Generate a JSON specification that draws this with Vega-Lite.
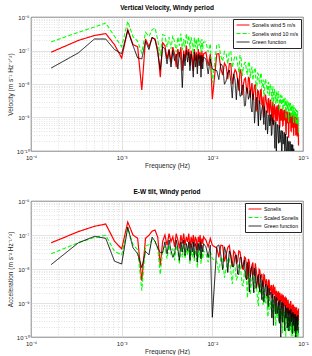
{
"$schema": "https://vega.github.io/schema/vega-lite/v6.json",
"background": "white",
"padding": {"left": 6, "right": 10, "top": 4, "bottom": 0},
"spacing": 19,
"config": {
 "font": "Liberation Sans",
 "view": {"stroke": "#262626", "strokeWidth": 0.8},
 "axis": {"domain": false, "ticks": false, "labelFontSize": 6, "labelColor": "#262626", "labelPadding": 3, "titleFontSize": 6.5, "titleFontWeight": "normal", "titleColor": "#262626", "gridColor": "#d0d0d0", "gridWidth": 0.6, "labelOverlap": false, "labelFlush": false},
 "title": {"fontSize": 6.5, "fontWeight": "bold", "offset": 3, "color": "#000000"},
 "legend": {"orient": "top-right", "offset": 2, "fillColor": "white", "strokeColor": "#262626", "padding": 2, "labelFontSize": 5.2, "labelColor": "#000000", "symbolType": "M-2,0L2,0", "symbolSize": 42, "symbolOffset": 4, "symbolStrokeWidth": 1.2, "rowPadding": 0.5, "labelOffset": 5, "labelLimit": 200}
},
"datasets": {"psd": [
{"f":0.000167,"v5":8.9e-8,"v10":1.8e-7,"vg":3.0e-8,"ar":5.9e-8,"as":2.8e-8,"ag":1.35e-8},
{"f":0.000333,"v5":2.0e-7,"v10":3.5e-7,"vg":8.5e-8,"ar":1.26e-7,"as":5.9e-8,"ag":5.9e-8},
{"f":0.0005,"v5":2.8e-7,"v10":5.0e-7,"vg":2.2e-7,"ar":1.8e-7,"as":8.5e-8,"ag":9.1e-8},
{"f":0.000667,"v5":3.2e-7,"v10":6.6e-7,"vg":2.2e-7,"ar":2.1e-7,"as":9.8e-8,"ag":8.0e-8},
{"f":0.000833,"v5":1.5e-7,"v10":2.65e-7,"vg":1.07e-7,"ar":6.6e-8,"as":3.3e-8,"ag":1.7e-8},
{"f":0.001,"v5":6.0e-8,"v10":1.3e-7,"vg":8.0e-8,"ar":3.9e-8,"as":2.6e-8,"ag":1.4e-8},
{"f":0.001167,"v5":4.2e-7,"v10":7.4e-7,"vg":4.0e-7,"ar":2.4e-7,"as":1.6e-7,"ag":1.7e-7},
{"f":0.001333,"v5":1.5e-7,"v10":2.6e-7,"vg":1.4e-7,"ar":1.0e-7,"as":5.2e-8,"ag":4.2e-8},
{"f":0.0015,"v5":1.3e-7,"v10":1.9e-7,"vg":6.0e-8,"ar":8.0e-8,"as":3.7e-8,"ag":2.8e-8},
{"f":0.001667,"v5":6.6e-9,"v10":8.5e-8,"vg":5.6e-8,"ar":4.5e-9,"as":2.3e-9,"ag":1.1e-8},
{"f":0.001833,"v5":2.2e-7,"v10":3.5e-7,"vg":1.9e-7,"ar":8.0e-8,"as":4.7e-8,"ag":3.3e-8},
{"f":0.002,"v5":1.3e-7,"v10":2.6e-7,"vg":1.07e-7,"ar":9.8e-8,"as":5.2e-8,"ag":2.6e-8},
{"f":0.002167,"v5":2.4e-7,"v10":4.2e-7,"vg":2.5e-7,"ar":1.3e-7,"as":7.3e-8,"ag":8.6e-8},
{"f":0.002333,"v5":2.2e-7,"v10":4.7e-7,"vg":2.1e-7,"ar":1.4e-7,"as":6.5e-8,"ag":6.5e-8},
{"f":0.0025,"v5":1.07e-7,"v10":2.1e-7,"vg":8.5e-8,"ar":8.6e-8,"as":4.0e-8,"ag":4.2e-8},
{"f":0.002667,"v5":1.6e-8,"v10":6.8e-8,"vg":2.7e-8,"ar":1.26e-8,"as":6.9e-9,"ag":3.0e-8},
{"f":0.002833,"v5":1.7e-7,"v10":3.0e-7,"vg":1.3e-7,"ar":6.5e-8,"as":3.7e-8,"ag":3.0e-8},
{"f":0.003,"v5":1.4e-7,"v10":2.8e-7,"vg":1.1e-7,"ar":1.0e-7,"as":4.5e-8,"ag":6.3e-8},
{"f":0.003167,"v5":5.6e-8,"v10":1.26e-7,"vg":4.0e-8,"ar":5.0e-8,"as":2.0e-8,"ag":2.8e-8},
{"f":0.003333,"v5":1.1e-7,"v10":2.5e-7,"vg":1.0e-7,"ar":1.1e-7,"as":5.0e-8,"ag":7.1e-8},
{"f":0.0035,"v5":4.5e-8,"v10":1.1e-7,"vg":3.2e-8,"ar":6.3e-8,"as":2.8e-8,"ag":3.5e-8},
{"f":0.003667,"v5":1.26e-7,"v10":2.8e-7,"vg":1.0e-7,"ar":8.9e-8,"as":4.0e-8,"ag":2.2e-8},
{"f":0.003833,"v5":7.9e-8,"v10":1.8e-7,"vg":5.0e-8,"ar":4.5e-8,"as":1.8e-8,"ag":2.8e-8},
{"f":0.004,"v5":3.2e-8,"v10":8.9e-8,"vg":7.9e-8,"ar":1.1e-7,"as":5.0e-8,"ag":7.1e-8},
{"f":0.004167,"v5":1.1e-7,"v10":2.5e-7,"vg":2.8e-8,"ar":7.1e-8,"as":3.2e-8,"ag":4.0e-8},
{"f":0.004333,"v5":6.3e-8,"v10":1.4e-7,"vg":8.9e-8,"ar":4.0e-8,"as":1.4e-8,"ag":1.8e-8},
{"f":0.0045,"v5":1.26e-7,"v10":3.2e-7,"vg":5.0e-8,"ar":1.0e-7,"as":4.5e-8,"ag":6.3e-8},
{"f":0.004667,"v5":2.5e-8,"v10":1.0e-7,"vg":7.8e-9,"ar":5.6e-8,"as":2.2e-8,"ag":3.2e-8},
{"f":0.004833,"v5":1.0e-7,"v10":2.2e-7,"vg":7.9e-8,"ar":1.1e-7,"as":5.0e-8,"ag":7.1e-8},
{"f":0.005,"v5":5.0e-8,"v10":1.26e-7,"vg":3.5e-8,"ar":5.0e-8,"as":2.0e-8,"ag":2.5e-8},
{"f":0.005167,"v5":1.4e-7,"v10":3.2e-7,"vg":1.0e-7,"ar":8.9e-8,"as":4.0e-8,"ag":5.6e-8},
{"f":0.005333,"v5":7.1e-8,"v10":1.6e-7,"vg":4.5e-8,"ar":6.3e-8,"as":2.5e-8,"ag":3.5e-8},
{"f":0.0055,"v5":1.1e-7,"v10":2.8e-7,"vg":8.9e-8,"ar":1.1e-7,"as":5.0e-8,"ag":6.3e-8},
{"f":0.005667,"v5":3.5e-8,"v10":1.1e-7,"vg":2.5e-8,"ar":4.0e-8,"as":1.4e-8,"ag":1.8e-8},
{"f":0.005833,"v5":1.0e-7,"v10":2.5e-7,"vg":7.9e-8,"ar":8.9e-8,"as":3.5e-8,"ag":5.6e-8},
{"f":0.006,"v5":6.3e-8,"v10":1.6e-7,"vg":4.0e-8,"ar":5.6e-8,"as":2.2e-8,"ag":3.2e-8},
{"f":0.006167,"v5":2.5e-8,"v10":7.9e-8,"vg":1.6e-8,"ar":1.0e-7,"as":4.0e-8,"ag":6.3e-8},
{"f":0.006333,"v5":1.1e-7,"v10":2.5e-7,"vg":8.9e-8,"ar":4.5e-8,"as":1.6e-8,"ag":2.2e-8},
{"f":0.0065,"v5":5.0e-8,"v10":1.26e-7,"vg":3.2e-8,"ar":8.9e-8,"as":3.5e-8,"ag":5.6e-8},
{"f":0.006667,"v5":8.9e-8,"v10":2.2e-7,"vg":7.1e-8,"ar":7.1e-8,"as":2.8e-8,"ag":4.5e-8},
{"f":0.006833,"v5":3.2e-8,"v10":1.0e-7,"vg":2.0e-8,"ar":3.5e-8,"as":1.1e-8,"ag":1.6e-8},
{"f":0.007,"v5":1.1e-7,"v10":2.5e-7,"vg":7.9e-8,"ar":8.9e-8,"as":3.5e-8,"ag":5.6e-8},
{"f":0.007167,"v5":5.6e-8,"v10":1.4e-7,"vg":3.5e-8,"ar":6.3e-8,"as":2.2e-8,"ag":3.5e-8},
{"f":0.007333,"v5":8.9e-8,"v10":2.0e-7,"vg":7.1e-8,"ar":1.0e-7,"as":4.0e-8,"ag":6.3e-8},
{"f":0.0075,"v5":2.8e-8,"v10":8.9e-8,"vg":1.6e-8,"ar":4.0e-8,"as":1.4e-8,"ag":2.0e-8},
{"f":0.007667,"v5":1.0e-7,"v10":2.2e-7,"vg":7.1e-8,"ar":7.9e-8,"as":3.2e-8,"ag":5.0e-8},
{"f":0.007833,"v5":4.5e-8,"v10":1.1e-7,"vg":2.8e-8,"ar":5.6e-8,"as":2.0e-8,"ag":3.2e-8},
{"f":0.008,"v5":7.9e-8,"v10":1.8e-7,"vg":6.3e-8,"ar":8.9e-8,"as":3.5e-8,"ag":5.6e-8},
{"f":0.0085,"v5":8.9e-8,"v10":1.8e-7,"vg":5.6e-8,"ar":7.1e-8,"as":2.8e-8,"ag":4.5e-8},
{"f":0.009,"v5":3.5e-8,"v10":8.9e-8,"vg":2.0e-8,"ar":4.5e-8,"as":1.6e-8,"ag":2.2e-8},
{"f":0.0095,"v5":7.9e-8,"v10":1.6e-7,"vg":5.6e-8,"ar":7.9e-8,"as":3.2e-8,"ag":5.0e-8},
{"f":0.01,"v5":3.5e-9,"v10":1.1e-8,"vg":2.8e-8,"ar":5.0e-8,"as":2.0e-8,"ag":3.8e-10},
{"f":0.0112,"v5":7.9e-8,"v10":1.5e-7,"vg":2.5e-8,"ar":4.1e-8,"as":1.66e-8,"ag":4.6e-8},
{"f":0.0124,"v5":2.9e-8,"v10":6.8e-8,"vg":4.0e-8,"ar":5.0e-8,"as":2.1e-8,"ag":2.6e-8},
{"f":0.0136,"v5":4.2e-8,"v10":9.3e-8,"vg":9.8e-9,"ar":1.66e-8,"as":5.5e-9,"ag":4.5e-8},
{"f":0.0148,"v5":1.4e-8,"v10":4.0e-8,"vg":2.2e-8,"ar":4.3e-8,"as":1.8e-8,"ag":7.9e-9},
{"f":0.016,"v5":4.0e-8,"v10":9.3e-8,"vg":1.2e-8,"ar":2.3e-8,"as":8.5e-9,"ag":2.6e-8},
{"f":0.0172,"v5":1.8e-8,"v10":5.0e-8,"vg":2.0e-8,"ar":3.4e-8,"as":1.35e-8,"ag":1.2e-8},
{"f":0.0184,"v5":2.3e-8,"v10":6.3e-8,"vg":3.4e-9,"ar":1.5e-8,"as":4.9e-9,"ag":2.6e-8},
{"f":0.0196,"v5":6.3e-9,"v10":2.2e-8,"vg":1.05e-8,"ar":3.4e-8,"as":1.4e-8,"ag":6.9e-9},
{"f":0.0208,"v5":2.1e-8,"v10":5.8e-8,"vg":4.5e-9,"ar":1.9e-8,"as":6.9e-9,"ag":2.2e-8},
{"f":0.022,"v5":9.5e-9,"v10":3.1e-8,"vg":9.1e-9,"ar":9.8e-9,"as":3.2e-9,"ag":1.35e-8},
{"f":0.0232,"v5":1.5e-8,"v10":4.4e-8,"vg":2.3e-9,"ar":2.1e-8,"as":8.5e-9,"ag":5.9e-9},
{"f":0.0244,"v5":5.2e-9,"v10":1.9e-8,"vg":7.2e-9,"ar":5.0e-9,"as":1.4e-9,"ag":1.55e-8},
{"f":0.0256,"v5":1.5e-8,"v10":4.4e-8,"vg":4.5e-9,"ar":1.6e-8,"as":6.0e-9,"ag":2.1e-9},
{"f":0.0268,"v5":7.4e-9,"v10":2.5e-8,"vg":1.95e-9,"ar":9.3e-9,"as":3.3e-9,"ag":1.05e-8},
{"f":0.028,"v5":3.3e-9,"v10":1.3e-8,"vg":5.1e-9,"ar":1.55e-8,"as":6.3e-9,"ag":5.0e-9},
{"f":0.0292,"v5":9.1e-9,"v10":2.9e-8,"vg":6.8e-10,"ar":6.6e-9,"as":2.2e-9,"ag":1.05e-8},
{"f":0.0304,"v5":1.5e-9,"v10":6.9e-9,"vg":3.4e-9,"ar":1.0e-8,"as":4.0e-9,"ag":2.7e-9},
{"f":0.0316,"v5":6.5e-9,"v10":2.1e-8,"vg":1.6e-9,"ar":4.0e-9,"as":1.2e-9,"ag":5.9e-9},
{"f":0.0328,"v5":3.5e-9,"v10":1.3e-8,"vg":3.2e-9,"ar":9.8e-9,"as":3.8e-9,"ag":3.4e-9},
{"f":0.034,"v5":6.6e-9,"v10":2.1e-8,"vg":8.3e-10,"ar":5.5e-9,"as":1.9e-9,"ag":6.6e-9},
{"f":0.0352,"v5":2.3e-9,"v10":8.5e-9,"vg":1.8e-9,"ar":7.1e-9,"as":2.7e-9,"ag":1.26e-9},
{"f":0.0364,"v5":4.2e-9,"v10":1.35e-8,"vg":1.1e-9,"ar":3.0e-9,"as":8.9e-10,"ag":3.7e-9},
{"f":0.0376,"v5":1.4e-9,"v10":5.4e-9,"vg":2.1e-9,"ar":6.6e-9,"as":2.5e-9,"ag":1.66e-9},
{"f":0.0388,"v5":4.5e-9,"v10":1.35e-8,"vg":4.2e-10,"ar":3.2e-9,"as":1.0e-9,"ag":3.5e-9},
{"f":0.04,"v5":2.3e-9,"v10":7.8e-9,"vg":1.26e-9,"ar":4.2e-9,"as":1.5e-9,"ag":1.8e-9},
{"f":0.0412,"v5":3.4e-9,"v10":1.05e-8,"vg":5.6e-10,"ar":1.45e-9,"as":3.9e-10,"ag":7.9e-10},
{"f":0.0424,"v5":1.15e-9,"v10":4.4e-9,"vg":1.2e-9,"ar":4.4e-9,"as":1.6e-9,"ag":2.7e-9},
{"f":0.0436,"v5":3.4e-9,"v10":1.0e-8,"vg":6.3e-10,"ar":2.4e-9,"as":7.6e-10,"ag":1.9e-9},
{"f":0.0448,"v5":1.45e-9,"v10":4.9e-9,"vg":2.9e-10,"ar":3.4e-9,"as":1.2e-9,"ag":6.9e-10},
{"f":0.046,"v5":2.1e-9,"v10":6.6e-9,"vg":9.8e-10,"ar":1.5e-9,"as":4.5e-10,"ag":1.8e-9},
{"f":0.0472,"v5":5.9e-10,"v10":2.3e-9,"vg":6.8e-10,"ar":3.3e-9,"as":1.2e-9,"ag":2.2e-10},
{"f":0.0484,"v5":2.5e-9,"v10":7.1e-9,"vg":2.6e-10,"ar":1.9e-9,"as":6.0e-10,"ag":1.6e-9},
{"f":0.0496,"v5":1.2e-9,"v10":4.0e-9,"vg":6.9e-10,"ar":1.0e-9,"as":2.75e-10,"ag":7.4e-10},
{"f":0.0508,"v5":2.0e-9,"v10":5.8e-9,"vg":8.3e-11,"ar":2.3e-9,"as":8.3e-10,"ag":1.5e-9},
{"f":0.052,"v5":7.9e-10,"v10":2.7e-9,"vg":6.2e-10,"ar":1.3e-9,"as":4.0e-10,"ag":4.9e-10},
{"f":0.0532,"v5":2.2e-9,"v10":5.9e-9,"vg":2.8e-10,"ar":1.95e-9,"as":6.9e-10,"ag":8.7e-10},
{"f":0.0544,"v5":1.2e-9,"v10":3.5e-9,"vg":5.8e-10,"ar":8.9e-10,"as":2.6e-10,"ag":3.0e-10},
{"f":0.0556,"v5":5.8e-10,"v10":1.9e-9,"vg":1.8e-10,"ar":2.0e-9,"as":7.2e-10,"ag":1.2e-9},
{"f":0.0568,"v5":1.8e-9,"v10":4.6e-9,"vg":3.2e-10,"ar":1.2e-9,"as":3.8e-10,"ag":8.0e-11},
{"f":0.058,"v5":8.7e-10,"v10":2.5e-9,"vg":1.0e-10,"ar":1.55e-9,"as":5.5e-10,"ag":8.5e-10},
{"f":0.0592,"v5":1.5e-9,"v10":3.8e-9,"vg":4.0e-10,"ar":4.7e-10,"as":1.3e-10,"ag":3.0e-10},
{"f":0.0604,"v5":5.9e-10,"v10":1.7e-9,"vg":1.6e-10,"ar":1.7e-9,"as":6.5e-10,"ag":1.0e-9},
{"f":0.0616,"v5":1.7e-9,"v10":3.9e-9,"vg":2.75e-10,"ar":8.9e-10,"as":3.0e-10,"ag":4.7e-10},
{"f":0.0628,"v5":8.7e-10,"v10":2.3e-9,"vg":9.3e-11,"ar":1.4e-9,"as":5.2e-10,"ag":1.5e-10},
{"f":0.064,"v5":1.3e-9,"v10":3.1e-9,"vg":3.2e-10,"ar":6.8e-10,"as":2.2e-10,"ag":8.1e-10},
{"f":0.0652,"v5":3.0e-10,"v10":9.3e-10,"vg":1.4e-10,"ar":1.45e-9,"as":5.8e-10,"ag":3.6e-10},
{"f":0.0664,"v5":1.55e-9,"v10":3.4e-9,"vg":4.5e-11,"ar":8.3e-10,"as":3.0e-10,"ag":7.2e-10},
{"f":0.0676,"v5":7.2e-10,"v10":1.8e-9,"vg":2.3e-10,"ar":4.9e-10,"as":1.55e-10,"ag":2.5e-10},
{"f":0.0688,"v5":1.3e-9,"v10":2.75e-9,"vg":1.0e-10,"ar":1.1e-9,"as":4.6e-10,"ag":7.2e-10},
{"f":0.07,"v5":5.5e-10,"v10":1.35e-9,"vg":1.95e-10,"ar":6.0e-10,"as":2.1e-10,"ag":1.5e-10},
{"f":0.0712,"v5":1.45e-9,"v10":2.9e-9,"vg":6.6e-11,"ar":8.9e-10,"as":3.5e-10,"ag":5.1e-10},
{"f":0.0724,"v5":7.4e-10,"v10":1.7e-9,"vg":1.9e-10,"ar":4.7e-10,"as":1.55e-10,"ag":2.5e-10},
{"f":0.0736,"v5":4.0e-10,"v10":1.0e-9,"vg":3.8e-11,"ar":1.05e-9,"as":4.4e-10,"ag":6.6e-10},
{"f":0.0748,"v5":1.2e-9,"v10":2.3e-9,"vg":1.3e-10,"ar":5.8e-10,"as":2.1e-10,"ag":2.75e-10},
{"f":0.076,"v5":5.5e-10,"v10":1.2e-9,"vg":6.0e-11,"ar":8.1e-10,"as":3.4e-10,"ag":1.5e-10},
{"f":0.0772,"v5":9.3e-10,"v10":1.9e-9,"vg":1.55e-10,"ar":3.2e-10,"as":1.05e-10,"ag":5.4e-10},
{"f":0.0784,"v5":4.2e-10,"v10":9.5e-10,"vg":6.5e-11,"ar":8.5e-10,"as":3.7e-10,"ag":3.0e-10},
{"f":0.0796,"v5":1.2e-9,"v10":2.1e-9,"vg":3.2e-11,"ar":4.7e-10,"as":1.8e-10,"ag":4.8e-10},
{"f":0.0808,"v5":5.8e-10,"v10":1.2e-9,"ar":7.4e-10,"as":3.2e-10,"ag":1.55e-10},
{"f":0.082,"v5":9.3e-10,"v10":1.7e-9,"ar":3.5e-10,"as":1.3e-10,"ag":4.0e-10},
{"f":0.0832,"v5":2.9e-10,"v10":6.5e-10,"ar":1.7e-10,"as":5.2e-11,"ag":4.7e-11},
{"f":0.0844,"v5":1.0e-9,"v10":1.7e-9,"ar":7.2e-10,"as":3.2e-10,"ag":4.0e-10},
{"f":0.0856,"v5":4.9e-10,"v10":9.8e-10,"ar":3.7e-10,"as":1.4e-10,"ag":1.55e-10},
{"f":0.0868,"v5":8.7e-10,"v10":1.5e-9,"ar":5.8e-10,"as":2.4e-10,"ag":2.1e-10},
{"f":0.088,"v5":3.5e-10,"v10":7.1e-10,"ar":2.7e-10,"as":9.3e-11,"ag":4.4e-10},
{"f":0.0892,"v5":1.45e-10,"v10":3.4e-10,"ar":6.9e-10,"as":3.0e-10,"ag":1.3e-10},
{"f":0.0118,"v5":8.0e-8,"v10":1.5e-7,"vg":1.36e-8,"ar":2.2e-8,"as":7.7e-9,"ag":5.1e-8},
{"f":0.013,"v5":1.84e-8,"v10":4.8e-8,"vg":3.4e-8,"ar":4.9e-8,"as":2.1e-8,"ag":9.5e-9},
{"f":0.0142,"v5":3.4e-8,"v10":8.0e-8,"vg":1.24e-8,"ar":2.7e-8,"as":1.02e-8,"ag":2.9e-8},
{"f":0.0154,"v5":4.1e-8,"v10":9.4e-8,"vg":2.6e-8,"ar":4.9e-8,"as":2.2e-8,"ag":3.4e-8},
{"f":0.0166,"v5":9.9e-9,"v10":3.05e-8,"vg":3.8e-9,"ar":1.17e-8,"as":3.6e-9,"ag":1.16e-8},
{"f":0.0178,"v5":2.7e-8,"v10":6.9e-8,"vg":1.3e-8,"ar":2.95e-8,"as":1.15e-8,"ag":2.4e-8},
{"f":0.019,"v5":1.33e-8,"v10":4.0e-8,"vg":1.48e-8,"ar":1.7e-8,"as":5.8e-9,"ag":7.1e-9},
{"f":0.0202,"v5":2.8e-8,"v10":7.3e-8,"vg":4.3e-9,"ar":3.2e-8,"as":1.3e-8,"ag":2.2e-8},
{"f":0.0214,"v5":4.6e-9,"v10":1.72e-8,"vg":9.2e-9,"ar":1.03e-8,"as":3.3e-9,"ag":1.1e-8},
{"f":0.0226,"v5":1.4e-8,"v10":4.2e-8,"vg":2.2e-9,"ar":2.26e-8,"as":9.0e-9,"ag":1.85e-8},
{"f":0.0238,"v5":7.0e-9,"v10":2.4e-8,"vg":7.8e-9,"ar":1.33e-8,"as":4.7e-9,"ag":4.8e-9},
{"f":0.025,"v5":1.57e-8,"v10":4.6e-8,"vg":3.5e-9,"ar":1.98e-8,"as":7.9e-9,"ag":1.13e-8},
{"f":0.0262,"v5":3.9e-9,"v10":1.5e-8,"vg":6.5e-9,"ar":5.7e-9,"as":1.74e-9,"ag":5.2e-9},
{"f":0.0274,"v5":1.06e-8,"v10":3.3e-8,"vg":1.46e-9,"ar":1.34e-8,"as":5.2e-9,"ag":1.17e-8},
{"f":0.0286,"v5":5.6e-9,"v10":2.0e-8,"vg":3.8e-9,"ar":6.8e-9,"as":2.3e-9,"ag":2.0e-9},
{"f":0.0298,"v5":9.4e-9,"v10":3.0e-8,"vg":1.6e-9,"ar":1.46e-8,"as":6.0e-9,"ag":8.3e-9},
{"f":0.031,"v5":2.0e-9,"v10":8.6e-9,"vg":4.0e-9,"ar":6.4e-9,"as":2.2e-9,"ag":4.1e-9},
{"f":0.0322,"v5":6.1e-9,"v10":2.0e-8,"vg":5.6e-10,"ar":2.85e-9,"as":8.1e-10,"ag":6.9e-9},
{"f":0.0334,"v5":2.6e-9,"v10":1.01e-8,"vg":2.7e-9,"ar":9.2e-9,"as":3.6e-9,"ag":2.1e-9},
{"f":0.0346,"v5":6.9e-9,"v10":2.1e-8,"vg":1.23e-9,"ar":6.2e-9,"as":2.3e-9,"ag":4.0e-9},
{"f":0.0358,"v5":2.6e-9,"v10":9.3e-9,"vg":2.3e-9,"ar":3.2e-9,"as":1.01e-9,"ag":4.5e-9},
{"f":0.037,"v5":1.01e-9,"v10":4.3e-9,"vg":6.2e-10,"ar":6.9e-9,"as":2.7e-9,"ag":1.05e-9},
{"f":0.0382,"v5":4.7e-9,"v10":1.4e-8,"vg":1.33e-9,"ar":3.5e-9,"as":1.13e-9,"ag":3.2e-9},
{"f":0.0394,"v5":3.0e-9,"v10":9.8e-9,"vg":1.6e-9,"ar":5.0e-9,"as":1.8e-9,"ag":1.65e-9},
{"f":0.0406,"v5":1.4e-9,"v10":5.2e-9,"vg":3.2e-10,"ar":1.72e-9,"as":4.8e-10,"ag":3.2e-9},
{"f":0.0418,"v5":3.8e-9,"v10":1.14e-8,"vg":1.15e-9,"ar":4.9e-9,"as":1.8e-9,"ag":9.5e-10},
{"f":0.043,"v5":1.68e-9,"v10":5.8e-9,"vg":5.6e-10,"ar":2.1e-9,"as":6.3e-10,"ag":1.72e-9},
{"f":0.0442,"v5":2.8e-9,"v10":8.5e-9,"vg":1.23e-9,"ar":3.05e-9,"as":1.05e-9,"ag":2.1e-9},
{"f":0.0454,"v5":7.7e-10,"v10":3.0e-9,"vg":3.2e-10,"ar":1.38e-9,"as":3.9e-10,"ag":3.6e-10},
{"f":0.0466,"v5":3.0e-9,"v10":8.5e-9,"vg":6.3e-10,"ar":3.2e-9,"as":1.13e-9,"ag":1.8e-9},
{"f":0.0478,"v5":1.06e-9,"v10":3.6e-9,"vg":8.2e-10,"ar":1.83e-9,"as":5.8e-10,"ag":7.7e-10},
{"f":0.049,"v5":1.8e-9,"v10":5.5e-9,"vg":1.2e-10,"ar":3.0e-9,"as":1.07e-9,"ag":1.19e-9},
{"f":0.0502,"v5":7.1e-10,"v10":2.5e-9,"vg":7.2e-10,"ar":8.1e-10,"as":2.1e-10,"ag":4.8e-10},
{"f":0.0514,"v5":2.1e-9,"v10":6.0e-9,"vg":2.85e-10,"ar":2.15e-9,"as":7.4e-10,"ag":1.37e-9},
{"f":0.0526,"v5":1.13e-9,"v10":3.5e-9,"vg":4.7e-10,"ar":1.19e-9,"as":3.6e-10,"ag":6.2e-10},
{"f":0.0538,"v5":2.3e-9,"v10":5.9e-9,"vg":1.7e-10,"ar":2.2e-9,"as":8.1e-10,"ag":1.1e-9},
{"f":0.055,"v5":4.7e-10,"v10":1.64e-9,"vg":5.4e-10,"ar":8.4e-10,"as":2.45e-10,"ag":2.6e-10},
{"f":0.0562,"v5":1.64e-9,"v10":4.4e-9,"vg":2.2e-10,"ar":1.62e-9,"as":5.6e-10,"ag":1.05e-9},
{"f":0.0574,"v5":8.2e-10,"v10":2.4e-9,"vg":4.1e-10,"ar":1.1e-9,"as":3.5e-10,"ag":6.0e-10},
{"f":0.0586,"v5":1.86e-9,"v10":4.5e-9,"vg":7.9e-11,"ar":1.87e-9,"as":7.2e-10,"ag":1.06e-9},
{"f":0.0598,"v5":5.7e-10,"v10":1.72e-9,"vg":3.7e-10,"ar":6.0e-10,"as":1.8e-10,"ag":2.7e-10},
{"f":0.061,"v5":1.33e-9,"v10":3.3e-9,"vg":1.93e-10,"ar":1.47e-9,"as":5.5e-10,"ag":7.1e-10},
{"f":0.0622,"v5":8.5e-10,"v10":2.3e-9,"vg":3.6e-10,"ar":8.4e-10,"as":2.8e-10,"ag":3.5e-10},
{"f":0.0634,"v5":1.72e-9,"v10":3.9e-9,"vg":7.9e-11,"ar":1.45e-9,"as":5.6e-10,"ag":8.6e-10},
{"f":0.0646,"v5":4.3e-10,"v10":1.26e-9,"vg":2.2e-10,"ar":3.5e-10,"as":9.5e-11,"ag":3.7e-10},
{"f":0.0658,"v5":1.36e-9,"v10":3.1e-9,"vg":9.9e-11,"ar":1.27e-9,"as":5.0e-10,"ag":6.3e-10},
{"f":0.067,"v5":7.0e-10,"v10":1.75e-9,"vg":2.7e-10,"ar":7.9e-10,"as":2.8e-10,"ag":1.84e-10},
{"f":0.0682,"v5":1.43e-9,"v10":3.0e-9,"vg":1.0e-10,"ar":1.25e-9,"as":5.1e-10,"ag":6.8e-10},
{"f":0.0694,"v5":2.5e-10,"v10":7.2e-10,"vg":1.76e-10,"ar":4.6e-10,"as":1.48e-10,"ag":3.5e-10},
{"f":0.0706,"v5":1.29e-9,"v10":2.65e-9,"vg":4.4e-11,"ar":9.5e-10,"as":3.8e-10,"ag":6.1e-10},
{"f":0.0718,"v5":7.3e-10,"v10":1.68e-9,"vg":1.86e-10,"ar":5.3e-10,"as":1.82e-10,"ag":2.1e-10},
{"f":0.073,"v5":1.33e-9,"v10":2.7e-9,"vg":8.8e-11,"ar":1.14e-9,"as":4.8e-10,"ag":6.1e-10},
{"f":0.0742,"v5":3.9e-10,"v10":9.8e-10,"vg":1.58e-10,"ar":3.2e-10,"as":1.03e-10,"ag":3.1e-10},
{"f":0.0754,"v5":1.01e-9,"v10":2.0e-9,"vg":4.7e-11,"ar":7.8e-10,"as":3.2e-10,"ag":4.9e-10},
{"f":0.0766,"v5":5.0e-10,"v10":1.12e-9,"vg":1.53e-10,"ar":4.8e-10,"as":1.76e-10,"ag":1.23e-10},
{"f":0.0778,"v5":1.33e-9,"v10":2.4e-9,"vg":7.2e-11,"ar":8.7e-10,"as":3.8e-10,"ag":5.1e-10},
{"f":0.079,"v5":2.85e-10,"v10":6.9e-10,"vg":1.16e-10,"ar":3.6e-10,"as":1.29e-10,"ag":2.2e-10},
{"f":0.0802,"v5":8.8e-10,"v10":1.68e-9,"ar":7.3e-10,"as":3.1e-10,"ag":3.8e-10},
{"f":0.0814,"v5":5.0e-10,"v10":1.04e-9,"ar":2.85e-10,"as":9.7e-11,"ag":1.48e-10},
{"f":0.0826,"v5":1.06e-9,"v10":1.86e-9,"ar":7.4e-10,"as":3.2e-10,"ag":4.7e-10},
{"f":0.0838,"v5":3.7e-10,"v10":7.8e-10,"ar":4.3e-10,"as":1.62e-10,"ag":2.25e-10},
{"f":0.085,"v5":8.9e-10,"v10":1.57e-9,"ar":7.2e-10,"as":3.1e-10,"ag":3.8e-10},
{"f":0.0862,"v5":2.7e-10,"v10":6.0e-10,"ar":2.8e-10,"as":9.7e-11,"ag":1.8e-10},
{"f":0.0874,"v5":9.0e-10,"v10":1.53e-9,"ar":5.7e-10,"as":2.4e-10,"ag":4.0e-10},
{"f":0.0886,"v5":4.6e-10,"v10":8.7e-10,"ar":3.2e-10,"as":1.16e-10,"ag":1.4e-10}
]},
"vconcat": [
 {
  "width": 272, "height": 134,
  "title": {"text": "Vertical Velocity, Windy period"},
  "data": {"name": "psd"},
  "transform": [{"fold": ["v5", "v10", "vg"], "as": ["s", "val"]}],
  "mark": {"type": "line", "clip": true},
  "encoding": {
   "x": {"field": "f", "type": "quantitative", "scale": {"type": "log", "domain": [0.0001, 0.1]},
    "axis": {"title": "Frequency (Hz)", "titlePadding": 2,
     "values": [0.0001,0.0002,0.0003,0.0004,0.0005,0.0006,0.0007,0.0008,0.0009,0.001,0.002,0.003,0.004,0.005,0.006,0.007,0.008,0.009,0.01,0.02,0.03,0.04,0.05,0.06,0.07,0.08,0.09,0.1],
     "labelExpr": "abs(log(datum.value)/LN10-round(log(datum.value)/LN10))>0.001 ? '' : round(log(datum.value)/LN10)==-4 ? '10⁻⁴' : round(log(datum.value)/LN10)==-3 ? '10⁻³' : round(log(datum.value)/LN10)==-2 ? '10⁻²' : '10⁻¹'",
     "gridDash": {"condition": {"test": "abs(log(datum.value)/LN10-round(log(datum.value)/LN10))>0.001", "value": [1, 1.5]}, "value": []}}},
   "y": {"field": "val", "type": "quantitative", "scale": {"type": "log", "domain": [1e-10, 1e-6]},
    "axis": {"title": "Velocity (m s⁻¹ Hz⁻¹ᐟ²)", "titlePadding": 3, "labelPadding": 2,
     "values": [1e-10,2e-10,3e-10,4e-10,5e-10,6e-10,7e-10,8e-10,9e-10,1e-9,2e-9,3e-9,4e-9,5e-9,6e-9,7e-9,8e-9,9e-9,1e-8,2e-8,3e-8,4e-8,5e-8,6e-8,7e-8,8e-8,9e-8,1e-7,2e-7,3e-7,4e-7,5e-7,6e-7,7e-7,8e-7,9e-7,1e-6],
     "labelExpr": "abs(log(datum.value)/LN10-round(log(datum.value)/LN10))>0.001 ? '' : round(log(datum.value)/LN10)==-10 ? '10⁻¹⁰' : round(log(datum.value)/LN10)==-9 ? '10⁻⁹' : round(log(datum.value)/LN10)==-8 ? '10⁻⁸' : round(log(datum.value)/LN10)==-7 ? '10⁻⁷' : '10⁻⁶'",
     "gridDash": {"condition": {"test": "abs(log(datum.value)/LN10-round(log(datum.value)/LN10))>0.001", "value": [1, 1.5]}, "value": []}}},
   "color": {"field": "s", "type": "nominal", "scale": {"domain": ["v5", "v10", "vg"], "range": ["#ff0000", "#00ff00", "#000000"]},
    "legend": {"title": null, "labelExpr": "datum.label == 'v5' ? 'Sonelis wind 5 m/s' : datum.label == 'v10' ? 'Sonelis wind 10 m/s' : 'Green function'"}},
   "strokeDash": {"field": "s", "type": "nominal", "scale": {"domain": ["v5", "v10", "vg"], "range": [[1, 0], [4, 2], [1, 0]]},
    "legend": {"title": null, "labelExpr": "datum.label == 'v5' ? 'Sonelis wind 5 m/s' : datum.label == 'v10' ? 'Sonelis wind 10 m/s' : 'Green function'"}},
   "strokeWidth": {"field": "s", "type": "nominal", "scale": {"domain": ["v5", "v10", "vg"], "range": [1.2, 0.9, 1.1]}, "legend": null}
  }
 },
 {
  "width": 272, "height": 136,
  "title": {"text": "E-W tilt, Windy period"},
  "data": {"name": "psd"},
  "transform": [{"fold": ["ar", "as", "ag"], "as": ["s", "val"]}],
  "mark": {"type": "line", "clip": true},
  "encoding": {
   "x": {"field": "f", "type": "quantitative", "scale": {"type": "log", "domain": [0.0001, 0.1]},
    "axis": {"title": "Frequency (Hz)", "titlePadding": 2,
     "values": [0.0001,0.0002,0.0003,0.0004,0.0005,0.0006,0.0007,0.0008,0.0009,0.001,0.002,0.003,0.004,0.005,0.006,0.007,0.008,0.009,0.01,0.02,0.03,0.04,0.05,0.06,0.07,0.08,0.09,0.1],
     "labelExpr": "abs(log(datum.value)/LN10-round(log(datum.value)/LN10))>0.001 ? '' : round(log(datum.value)/LN10)==-4 ? '10⁻⁴' : round(log(datum.value)/LN10)==-3 ? '10⁻³' : round(log(datum.value)/LN10)==-2 ? '10⁻²' : '10⁻¹'",
     "gridDash": {"condition": {"test": "abs(log(datum.value)/LN10-round(log(datum.value)/LN10))>0.001", "value": [1, 1.5]}, "value": []}}},
   "y": {"field": "val", "type": "quantitative", "scale": {"type": "log", "domain": [1e-10, 1e-6]},
    "axis": {"title": "Acceleration (m s⁻² Hz⁻¹ᐟ²)", "titlePadding": 3, "labelPadding": 2,
     "values": [1e-10,2e-10,3e-10,4e-10,5e-10,6e-10,7e-10,8e-10,9e-10,1e-9,2e-9,3e-9,4e-9,5e-9,6e-9,7e-9,8e-9,9e-9,1e-8,2e-8,3e-8,4e-8,5e-8,6e-8,7e-8,8e-8,9e-8,1e-7,2e-7,3e-7,4e-7,5e-7,6e-7,7e-7,8e-7,9e-7,1e-6],
     "labelExpr": "abs(log(datum.value)/LN10-round(log(datum.value)/LN10))>0.001 ? '' : round(log(datum.value)/LN10)==-10 ? '10⁻¹⁰' : round(log(datum.value)/LN10)==-9 ? '10⁻⁹' : round(log(datum.value)/LN10)==-8 ? '10⁻⁸' : round(log(datum.value)/LN10)==-7 ? '10⁻⁷' : '10⁻⁶'",
     "gridDash": {"condition": {"test": "abs(log(datum.value)/LN10-round(log(datum.value)/LN10))>0.001", "value": [1, 1.5]}, "value": []}}},
   "color": {"field": "s", "type": "nominal", "scale": {"domain": ["ar", "as", "ag"], "range": ["#ff0000", "#00ff00", "#000000"]},
    "legend": {"title": null, "labelExpr": "datum.label == 'ar' ? 'Sonelis' : datum.label == 'as' ? 'Scaled Sonelis' : 'Green function'"}},
   "strokeDash": {"field": "s", "type": "nominal", "scale": {"domain": ["ar", "as", "ag"], "range": [[1, 0], [4, 2], [1, 0]]},
    "legend": {"title": null, "labelExpr": "datum.label == 'ar' ? 'Sonelis' : datum.label == 'as' ? 'Scaled Sonelis' : 'Green function'"}},
   "strokeWidth": {"field": "s", "type": "nominal", "scale": {"domain": ["ar", "as", "ag"], "range": [1.2, 0.9, 1.1]}, "legend": null}
  }
 }
],
"resolve": {"scale": {"color": "independent", "strokeDash": "independent", "strokeWidth": "independent"}, "legend": {"color": "independent", "strokeDash": "independent"}}
}
